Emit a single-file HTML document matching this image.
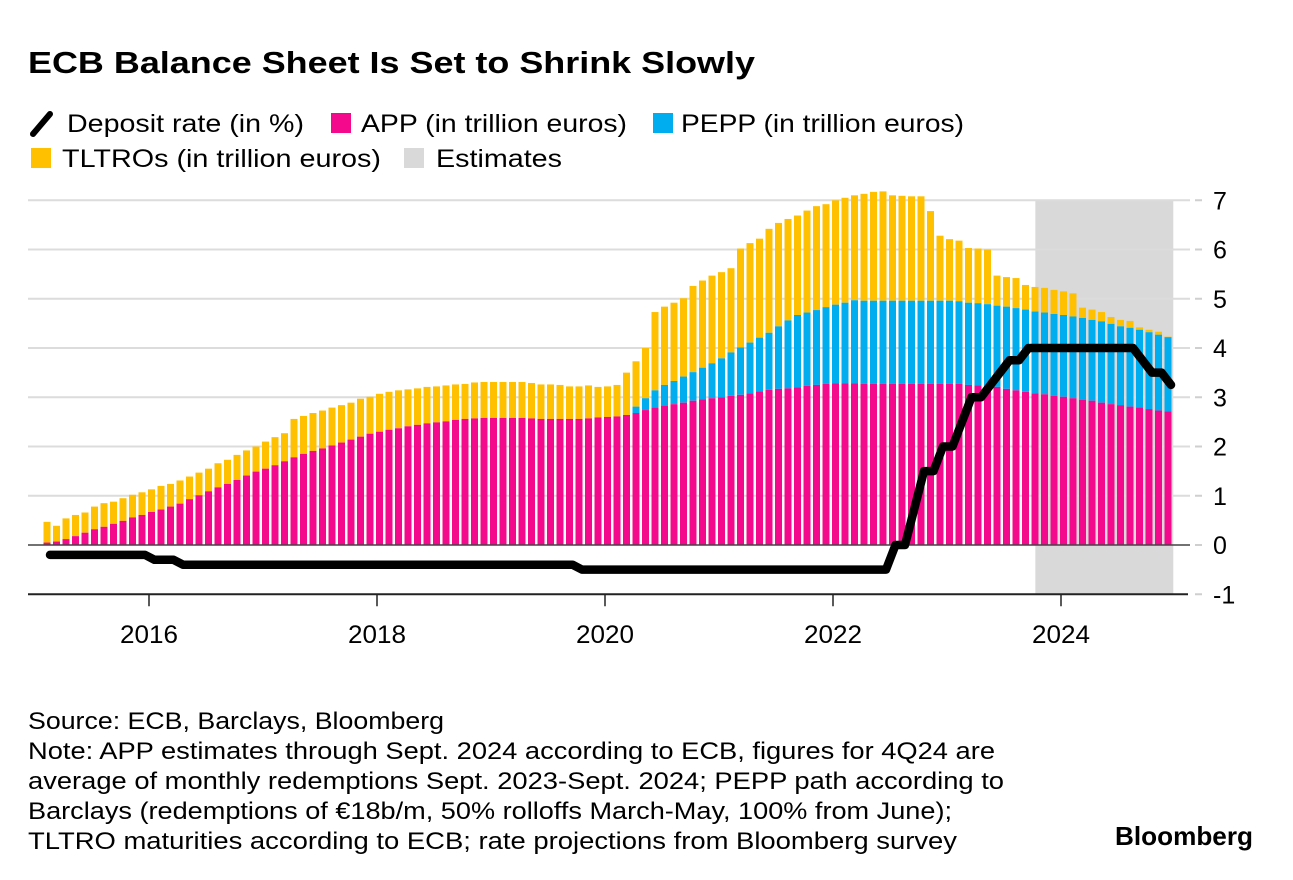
<!DOCTYPE html>
<html><head><meta charset="utf-8">
<style>
body{margin:0;background:#fff;}
svg{display:block;font-family:"Liberation Sans",Arial,sans-serif;}
</style></head>
<body>
<svg id="chart" width="1293" height="880" viewBox="0 0 1293 880" xmlns="http://www.w3.org/2000/svg">
<rect width="1293" height="880" fill="#fff"/>
<text x="28" y="73" font-size="31" font-weight="bold" fill="#000" textLength="727" lengthAdjust="spacingAndGlyphs">ECB Balance Sheet Is Set to Shrink Slowly</text>
<g font-size="25" fill="#000">
  <g><line x1="33" y1="134" x2="50" y2="114" stroke="#000" stroke-width="6" stroke-linecap="round"/><text x="67" y="132" textLength="237" lengthAdjust="spacingAndGlyphs">Deposit rate (in %)</text></g>
  <g><rect x="331" y="113" width="20" height="20" fill="#f5098c"/><text x="361" y="132" textLength="266" lengthAdjust="spacingAndGlyphs">APP (in trillion euros)</text></g>
  <g><rect x="653" y="113" width="20" height="20" fill="#00adef"/><text x="681" y="132" textLength="283" lengthAdjust="spacingAndGlyphs">PEPP (in trillion euros)</text></g>
  <g><rect x="31" y="148" width="20" height="20" fill="#ffc000"/><text x="62" y="167" textLength="319" lengthAdjust="spacingAndGlyphs">TLTROs (in trillion euros)</text></g>
  <g><rect x="404" y="148" width="20" height="20" fill="#d9d9d9"/><text x="436" y="167" textLength="126" lengthAdjust="spacingAndGlyphs">Estimates</text></g>
</g>
<g id="plot"></g>
<g font-size="24" fill="#000">
  <text x="28" y="729" textLength="416" lengthAdjust="spacingAndGlyphs">Source: ECB, Barclays, Bloomberg</text>
  <text x="28" y="759" textLength="967" lengthAdjust="spacingAndGlyphs">Note: APP estimates through Sept. 2024 according to ECB, figures for 4Q24 are</text>
  <text x="28" y="789" textLength="976" lengthAdjust="spacingAndGlyphs">average of monthly redemptions Sept. 2023-Sept. 2024; PEPP path according to</text>
  <text x="28" y="819" textLength="924" lengthAdjust="spacingAndGlyphs">Barclays (redemptions of €18b/m, 50% rolloffs March-May, 100% from June);</text>
  <text x="28" y="849" textLength="929" lengthAdjust="spacingAndGlyphs">TLTRO maturities according to ECB; rate projections from Bloomberg survey</text>
  <text x="1115" y="845" font-size="26" font-weight="bold" textLength="138" lengthAdjust="spacingAndGlyphs">Bloomberg</text>
</g>
</svg>
<script>
// month index m = months since Jan 2015 (first bar m=1 = Feb 2015, last m=119 = Dec 2024)
const totals = [0.47,0.39,0.54,0.61,0.66,0.78,0.85,0.88,0.95,1.02,1.07,1.13,1.20,1.24,1.31,1.39,1.47,1.55,1.66,1.73,1.83,1.92,2.00,2.10,2.19,2.27,2.56,2.62,2.68,2.73,2.79,2.84,2.89,2.97,3.01,3.07,3.11,3.14,3.16,3.18,3.21,3.22,3.24,3.26,3.27,3.30,3.31,3.31,3.31,3.31,3.31,3.29,3.26,3.26,3.25,3.22,3.22,3.24,3.21,
3.22,3.25,3.50,3.73,4.00,4.73,4.84,4.92,5.01,5.26,5.37,5.47,5.54,5.62,6.02,6.13,6.22,6.42,6.54,6.62,6.69,6.79,6.88,6.92,7.00,7.05,7.10,
7.13,7.17,7.18,7.10,7.09,7.08,7.08,6.78,6.28,6.21,6.18,6.03,6.02,6.00,5.47,5.44,5.42,5.28,5.24,5.22,5.18,5.15,5.11,4.82,4.78,4.73,4.63,4.57,4.55,4.42,4.37,4.33,4.23];
const appValues = [0.05,0.07,0.12,0.18,0.25,0.32,0.37,0.43,0.49,0.56,0.61,0.67,0.72,0.78,0.84,0.93,1.01,1.09,1.17,1.24,1.32,1.41,1.49,1.55,1.62,1.70,1.78,1.85,1.91,1.96,2.02,2.08,2.14,2.20,2.26,2.30,2.34,2.37,2.41,2.44,2.47,2.49,2.51,2.54,2.56,2.57,2.58,2.58,2.58,2.58,2.58,2.57,2.56,2.56,2.56,2.56,2.56,2.57,2.59,
2.60,2.61,2.64,2.68,2.74,2.79,2.83,2.86,2.89,2.93,2.96,2.98,3.00,3.03,3.05,3.08,3.12,3.15,3.17,3.18,3.20,3.23,3.25,3.27,3.28,3.28,3.28,
3.27,3.27,3.27,3.27,3.27,3.27,3.27,3.27,3.27,3.27,3.27,3.25,3.24,3.23,3.21,3.17,3.14,3.11,3.08,3.06,3.03,3.01,2.98,2.95,2.93,2.89,2.86,2.84,2.81,2.79,2.76,2.73,2.71];
// PEPP cumulative top (APP + PEPP); 0 = no PEPP
const peppTop = [0,0,0,0,0,0,0,0,0,0,0,0,0,0,0,0,0,0,0,0,0,0,0,0,0,0,0,0,0,0,0,0,0,0,0,0,0,0,0,0,0,0,0,0,0,0,0,0,0,0,0,0,0,0,0,0,0,0,0,
0,0,0,2.81,2.98,3.14,3.25,3.33,3.42,3.51,3.60,3.69,3.79,3.91,4.01,4.11,4.21,4.31,4.44,4.56,4.67,4.72,4.77,4.83,4.88,4.92,4.97,
4.96,4.96,4.96,4.96,4.96,4.96,4.96,4.96,4.96,4.96,4.95,4.92,4.91,4.89,4.86,4.84,4.81,4.78,4.74,4.72,4.69,4.67,4.64,4.61,4.57,4.54,4.49,4.44,4.41,4.37,4.32,4.27,4.22];
const depositRate = [-0.2,-0.2,-0.2,-0.2,-0.2,-0.2,-0.2,-0.2,-0.2,-0.2,-0.2,-0.3,-0.3,-0.3,-0.4,-0.4,-0.4,-0.4,-0.4,-0.4,-0.4,-0.4,-0.4,-0.4,-0.4,-0.4,-0.4,-0.4,-0.4,-0.4,-0.4,-0.4,-0.4,-0.4,-0.4,-0.4,-0.4,-0.4,-0.4,-0.4,-0.4,-0.4,-0.4,-0.4,-0.4,-0.4,-0.4,-0.4,-0.4,-0.4,-0.4,-0.4,-0.4,-0.4,-0.4,-0.4,-0.5,-0.5,-0.5,
-0.5,-0.5,-0.5,-0.5,-0.5,-0.5,-0.5,-0.5,-0.5,-0.5,-0.5,-0.5,-0.5,-0.5,-0.5,-0.5,-0.5,-0.5,-0.5,-0.5,-0.5,-0.5,-0.5,-0.5,-0.5,-0.5,-0.5,
-0.5,-0.5,-0.5,0,0,0.75,1.5,1.5,2.0,2.0,2.5,3.0,3.0,3.25,3.5,3.75,3.75,4.0,4.0,4.0,4.0,4.0,4.0,4.0,4.0,4.0,4.0,4.0,4.0,3.75,3.5,3.5,3.25];
const yTicks = [-1,0,1,2,3,4,5,6,7];
const xTickYears = [2016,2018,2020,2022,2024];
const estimateStart = 2023.775;
const estimateEnd = 2024.985;

const NS = 'http://www.w3.org/2000/svg';
const plot = document.getElementById('plot');
function xMonth(m){ return 37.5 + 9.5*m; }
function xYear(t){ return 149 + 114*(t-2016); }
function yVal(v){ return 545 - 49.25*v; }
function mk(tag, attrs){ const e=document.createElementNS(NS,tag); for(const k in attrs) e.setAttribute(k,attrs[k]); plot.appendChild(e); return e; }

const band = mk('rect',{x:xYear(estimateStart),y:yVal(7),width:xYear(estimateEnd)-xYear(estimateStart),height:yVal(-1)-yVal(7),fill:'#d9d9d9'});



yTicks.forEach(v=>{
  if(v>0){
    const g = mk('line',{x1:28,x2:1190,y1:yVal(v),y2:yVal(v),stroke:'#dcdcdc','stroke-width':2});
    
    
  }
  const d = mk('line',{x1:1195,x2:1202,y1:yVal(v),y2:yVal(v),stroke:'#cfcfcf','stroke-width':2});
  
  
  const t = mk('text',{x:1213,y:yVal(v)+9,'font-size':25,fill:'#000'});
  t.textContent = String(v);
  
  
});

for(let i=0;i<totals.length;i++){
  const m=i+1, x=xMonth(m)-3.5, w=7;
  const app=appValues[i], pepp=peppTop[i]||app, tot=totals[i];
  if(tot>pepp){
    const r=mk('rect',{x:x,y:yVal(tot),width:w,height:yVal(pepp)-yVal(tot),fill:'#ffc000'});
    
    
  }
  if(pepp>app){
    const r=mk('rect',{x:x,y:yVal(pepp),width:w,height:yVal(app)-yVal(pepp),fill:'#00adef'});
    
    
  }
  const r=mk('rect',{x:x,y:yVal(app),width:w,height:yVal(0)-yVal(app),fill:'#f5098c'});
  
  
}

const zl = mk('line',{x1:28,x2:1190,y1:yVal(0),y2:yVal(0),stroke:'#444','stroke-width':1.5});



const ax = mk('line',{x1:28,x2:1188,y1:yVal(-1),y2:yVal(-1),stroke:'#222','stroke-width':2});


xTickYears.forEach(yr=>{
  const tk = mk('line',{x1:xYear(yr),x2:xYear(yr),y1:yVal(-1),y2:yVal(-1)+12,stroke:'#222','stroke-width':1.5});
  
  
  const t = mk('text',{x:xYear(yr),y:643,'font-size':25,'text-anchor':'middle',fill:'#000',textLength:58,lengthAdjust:'spacingAndGlyphs'});
  t.textContent = String(yr);
  
  
});

const pts = depositRate.map((v,i)=>(xMonth(i+1)+3).toFixed(1)+','+yVal(v).toFixed(1)).join(' ');
const pl = mk('polyline',{points:pts,fill:'none',stroke:'#000','stroke-width':8.5,'stroke-linejoin':'round','stroke-linecap':'round'});


</script>
</body></html>
